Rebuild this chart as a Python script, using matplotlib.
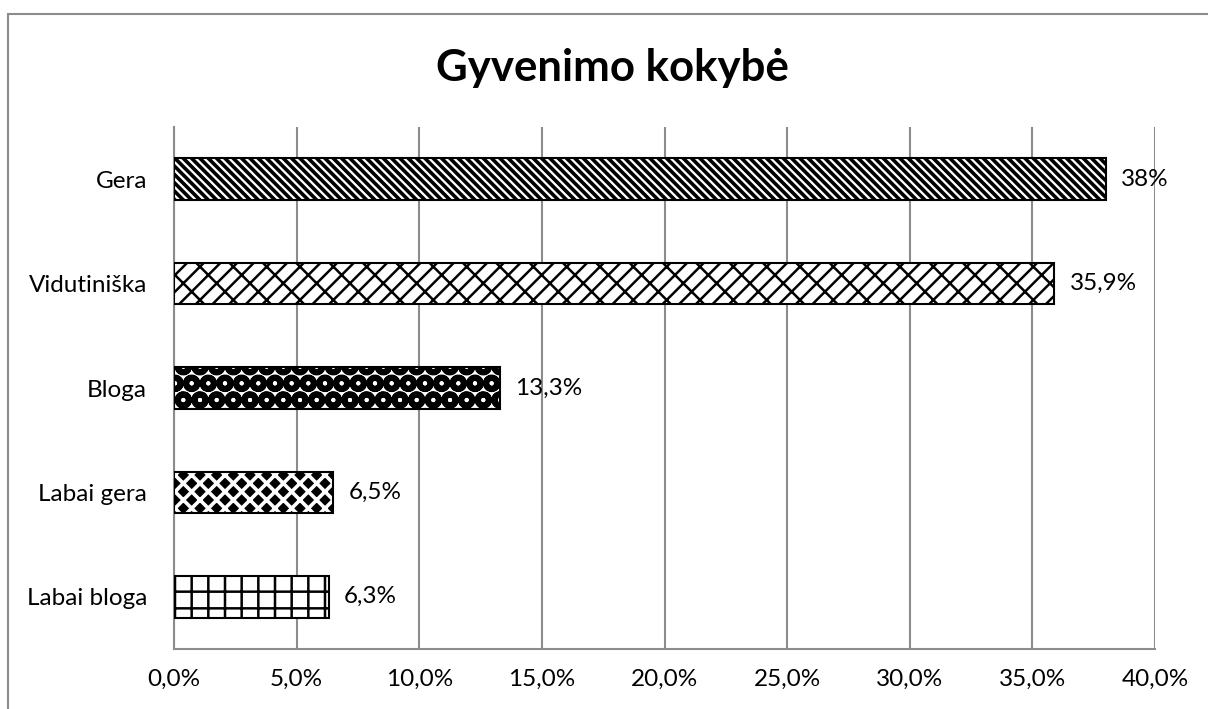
import matplotlib
matplotlib.use("Agg")
import matplotlib as mpl
import matplotlib.pyplot as plt
from matplotlib.patches import Rectangle
from matplotlib.ticker import FuncFormatter, MultipleLocator

categories = ["Gera", "Vidutiniška", "Bloga", "Labai gera", "Labai bloga"]
values = [38.0, 35.9, 13.3, 6.5, 6.3]
value_labels = ["38%", "35,9%", "13,3%", "6,5%", "6,3%"]
title = "Gyvenimo kokybė"

plt.rcParams['font.family'] = ['Lato', 'DejaVu Sans']

fig = plt.figure(figsize=(12.08, 7.09), dpi=100)
ax = fig.add_axes([174/1208, 60/709, 981/1208, 522/709])

# outer chart border
fig.patches.append(Rectangle((8/1208, -0.02), 1.05, 1 - 14/709 + 0.02,
                             transform=fig.transFigure, fill=False,
                             edgecolor='#8c8c8c', linewidth=1.5))

BS = chr(92)
ypos = list(range(len(categories)))
bar_h = 0.4
styles = [
    (dict(facecolor='white', edgecolor='black', hatch=BS * 4), 2.6),
    (dict(facecolor='white', edgecolor='black', hatch='//' + BS), 1.8),
    (dict(facecolor='white', edgecolor='black', hatch='O'), 4.2),
    (dict(facecolor='black', edgecolor='white', hatch='xx'), 2.6),
    (dict(facecolor='white', edgecolor='black', hatch='+'), 1.8),
]
for y, v, (st, hlw) in zip(ypos, values, styles):
    with mpl.rc_context({'hatch.linewidth': hlw}):
        bars = ax.barh(y, v, height=bar_h, linewidth=0, zorder=3, **st)
    for b in bars:
        if hasattr(b, 'set_hatch_linewidth'):
            b.set_hatch_linewidth(hlw)
    ax.barh(y, v, height=bar_h, facecolor='none', edgecolor='black',
            linewidth=1.5, zorder=4)

for y, v, lab in zip(ypos, values, value_labels):
    ax.text(v + 0.62, y, lab, va='center', ha='left', fontsize=17.5, zorder=5)

ax.set_yticks(ypos)
ax.set_yticklabels(categories)
ax.set_ylim(len(categories) - 0.5, -0.5)
ax.set_xlim(0, 40)
ax.xaxis.set_major_locator(MultipleLocator(5))
ax.xaxis.set_major_formatter(FuncFormatter(lambda x, p: f"{x:.1f}%".replace('.', ',')))
ax.tick_params(axis='both', length=0, labelsize=17.5, colors='black')
ax.tick_params(axis='y', pad=19.5)
ax.tick_params(axis='x', pad=14)
ax.grid(axis='x', color='#8c8c8c', linewidth=1.5, zorder=0)
ax.set_axisbelow(True)
for s in ['top', 'right']:
    ax.spines[s].set_visible(False)
for s in ['left', 'bottom']:
    ax.spines[s].set_color('#8c8c8c')
    ax.spines[s].set_linewidth(1.5)

fig.text(612/1208, 1 - 68/709, title, ha='center', va='center',
         fontsize=31.5, fontweight='bold')

fig.savefig("out.png", dpi=100)
